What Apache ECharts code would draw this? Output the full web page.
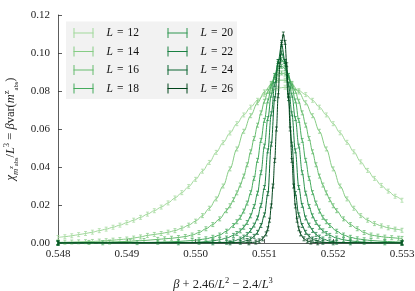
<!DOCTYPE html>
<html><head><meta charset="utf-8">
<script src="https://cdn.jsdelivr.net/npm/echarts@6/dist/echarts.min.js"></script>
<style>html,body{margin:0;padding:0;background:#fff}#c{width:415px;height:291px}</style>
</head><body><div id="c"></div>
<script>
const seriesNames = ['L = 12','L = 14','L = 16','L = 18','L = 20','L = 22','L = 24','L = 26'];
const xTicks = [0.548, 0.549, 0.550, 0.551, 0.552, 0.553];
const yTicks = [0, 0.02, 0.04, 0.06, 0.08, 0.10, 0.12];

const L12 = [[0.5480,0.0029],[0.5481,0.0033],[0.5482,0.0038],[0.5483,0.0044],[0.5484,0.0050],[0.5485,0.0057],[0.5486,0.0065],[0.5487,0.0073],[0.5488,0.0083],[0.5489,0.0094],[0.5490,0.0107],[0.5491,0.0120],[0.5492,0.0135],[0.5493,0.0152],[0.5494,0.0170],[0.5495,0.0189],[0.5496,0.0211],[0.5497,0.0237],[0.5498,0.0265],[0.5499,0.0297],[0.5500,0.0335],[0.5501,0.0378],[0.5502,0.0424],[0.5503,0.0477],[0.5504,0.0528],[0.5505,0.0579],[0.5506,0.0628],[0.5507,0.0674],[0.5508,0.0715],[0.5509,0.0751],[0.5510,0.0781],[0.5511,0.0802],[0.5512,0.0815],[0.5513,0.0820],[0.5514,0.0815],[0.5515,0.0802],[0.5516,0.0781],[0.5517,0.0751],[0.5518,0.0715],[0.5519,0.0674],[0.5520,0.0628],[0.5521,0.0580],[0.5522,0.0530],[0.5523,0.0480],[0.5524,0.0427],[0.5525,0.0382],[0.5526,0.0340],[0.5527,0.0303],[0.5528,0.0273],[0.5529,0.0246],[0.5530,0.0225]];

const L14 = [[0.5480,0.0003],[0.5481,0.0004],[0.5482,0.0005],[0.5483,0.0006],[0.5484,0.0007],[0.5485,0.0008],[0.5486,0.0010],[0.5487,0.0012],[0.5488,0.0015],[0.5489,0.0018],[0.5490,0.0021],[0.5491,0.0026],[0.5492,0.0032],[0.5493,0.0040],[0.5494,0.0045],[0.5495,0.0050],[0.5496,0.0057],[0.5497,0.0065],[0.5498,0.0078],[0.5499,0.0094],[0.5500,0.0115],[0.5501,0.0144],[0.5502,0.0183],[0.5503,0.0232],[0.5504,0.0300],[0.5505,0.0390],[0.5506,0.0495],[0.5507,0.0588],[0.5508,0.0670],[0.5509,0.0738],[0.5510,0.0795],[0.5511,0.0836],[0.5512,0.0857],[0.5513,0.0857],[0.5514,0.0836],[0.5515,0.0795],[0.5516,0.0738],[0.5517,0.0670],[0.5518,0.0588],[0.5519,0.0495],[0.5520,0.0390],[0.5521,0.0300],[0.5522,0.0232],[0.5523,0.0183],[0.5524,0.0144],[0.5525,0.0120],[0.5526,0.0102],[0.5527,0.0090],[0.5528,0.0080],[0.5529,0.0073],[0.5530,0.0067]];

const L16 = [[0.5480,0.0001],[0.54845,0.0003],[0.54875,0.0005],[0.54905,0.0009],[0.54925,0.0013],[0.54945,0.0019],[0.54955,0.0022],[0.54965,0.0025],[0.54975,0.0029],[0.54985,0.0034],[0.54995,0.0042],[0.55005,0.0055],[0.55015,0.0075],[0.55025,0.0097],[0.55035,0.0127],[0.55045,0.0170],[0.5505,0.0196],[0.55055,0.0228],[0.5506,0.0264],[0.55065,0.0305],[0.5507,0.0352],[0.55075,0.0412],[0.5508,0.0480],[0.55085,0.0550],[0.5509,0.0620],[0.55095,0.0685],[0.5510,0.0746],[0.55105,0.0798],[0.5511,0.0840],[0.55115,0.0871],[0.5512,0.0889],[0.55125,0.0895],[0.5513,0.0889],[0.55135,0.0871],[0.5514,0.0840],[0.55145,0.0798],[0.5515,0.0746],[0.55155,0.0685],[0.5516,0.0620],[0.55165,0.0550],[0.5517,0.0480],[0.55175,0.0412],[0.5518,0.0352],[0.55185,0.0305],[0.5519,0.0264],[0.55195,0.0228],[0.5520,0.0196],[0.55205,0.0170],[0.55215,0.0127],[0.55225,0.0097],[0.55235,0.0075],[0.55245,0.0055],[0.55255,0.0042],[0.55265,0.0036],[0.55275,0.0031],[0.55285,0.0028],[0.55295,0.0025],[0.5530,0.0024]];

const L18 = [[0.5480,0.0000],[0.54865,0.0001],[0.54915,0.0002],[0.54945,0.0004],[0.54975,0.0008],[0.54995,0.0013],[0.55005,0.0017],[0.55015,0.0022],[0.55025,0.0030],[0.55035,0.0042],[0.55045,0.0062],[0.55055,0.0092],[0.5506,0.0112],[0.55065,0.0135],[0.5507,0.0168],[0.55075,0.0210],[0.5508,0.0265],[0.55085,0.0340],[0.5509,0.0435],[0.55095,0.0540],[0.5510,0.0645],[0.55105,0.0748],[0.5511,0.0826],[0.55115,0.0882],[0.5512,0.0918],[0.55125,0.0930],[0.5513,0.0918],[0.55135,0.0882],[0.5514,0.0826],[0.55145,0.0748],[0.5515,0.0645],[0.55155,0.0540],[0.5516,0.0435],[0.55165,0.0340],[0.5517,0.0265],[0.55175,0.0210],[0.5518,0.0168],[0.55185,0.0135],[0.5519,0.0112],[0.55195,0.0092],[0.55205,0.0062],[0.55215,0.0042],[0.55225,0.0030],[0.55235,0.0022],[0.55245,0.0017],[0.55255,0.0013],[0.55275,0.0008],[0.5530,0.0004]];

const L20 = [[0.5480,0.0000],[0.54975,0.0001],[0.55005,0.0004],[0.55025,0.0011],[0.55035,0.0017],[0.55045,0.0026],[0.55055,0.0040],[0.5506,0.0050],[0.55065,0.0064],[0.5507,0.0083],[0.55075,0.0108],[0.5508,0.0143],[0.55085,0.0192],[0.5509,0.0262],[0.55095,0.0370],[0.5510,0.0510],[0.55105,0.0655],[0.5511,0.0778],[0.55115,0.0880],[0.5512,0.0945],[0.55125,0.0965],[0.5513,0.0945],[0.55135,0.0880],[0.5514,0.0778],[0.55145,0.0655],[0.5515,0.0510],[0.55155,0.0370],[0.5516,0.0262],[0.55165,0.0192],[0.5517,0.0143],[0.55175,0.0108],[0.5518,0.0083],[0.55185,0.0064],[0.5519,0.0050],[0.55195,0.0040],[0.55205,0.0026],[0.55215,0.0017],[0.55225,0.0011],[0.55245,0.0004],[0.55275,0.0001],[0.5530,0.0000]];

const L22 = [[0.5480,0.0000],[0.55025,0.0001],[0.55045,0.0004],[0.55055,0.0010],[0.55065,0.0021],[0.5507,0.0031],[0.55075,0.0045],[0.5508,0.0066],[0.55085,0.0094],[0.5509,0.0132],[0.55095,0.0198],[0.5510,0.0292],[0.55105,0.0485],[0.5511,0.0680],[0.55115,0.0835],[0.5512,0.0955],[0.55125,0.1000],[0.5513,0.0955],[0.55135,0.0835],[0.5514,0.0680],[0.55145,0.0485],[0.5515,0.0292],[0.55155,0.0198],[0.5516,0.0132],[0.55165,0.0094],[0.5517,0.0066],[0.55175,0.0045],[0.5518,0.0031],[0.55185,0.0021],[0.55195,0.0010],[0.55205,0.0004],[0.55225,0.0001],[0.5530,0.0000]];

const L24 = [[0.5480,0.0000],[0.5505,0.0001],[0.55065,0.0004],[0.55075,0.0013],[0.5508,0.0021],[0.55085,0.0035],[0.5509,0.0056],[0.55095,0.0092],[0.5510,0.0148],[0.55105,0.0260],[0.5511,0.0520],[0.55115,0.0760],[0.5512,0.0955],[0.55125,0.1045],[0.5513,0.0955],[0.55135,0.0760],[0.5514,0.0520],[0.55145,0.0260],[0.5515,0.0148],[0.55155,0.0092],[0.5516,0.0056],[0.55165,0.0035],[0.5517,0.0021],[0.55175,0.0013],[0.55185,0.0004],[0.5520,0.0001],[0.5530,0.0000]];

const L26 = [[0.5480,0.0000],[0.550775,0.0001],[0.550875,0.0005],[0.550925,0.0011],[0.550975,0.0022],[0.551025,0.0048],[0.55105,0.0075],[0.551075,0.0120],[0.5511,0.0195],[0.551125,0.0300],[0.55115,0.0435],[0.551175,0.0600],[0.5512,0.0775],[0.551225,0.0938],[0.55125,0.1056],[0.551275,0.1100],[0.5513,0.1056],[0.551325,0.0938],[0.55135,0.0775],[0.551375,0.0600],[0.5514,0.0435],[0.551425,0.0300],[0.55145,0.0195],[0.551475,0.0120],[0.5515,0.0075],[0.551525,0.0048],[0.551575,0.0022],[0.551625,0.0011],[0.551675,0.0005],[0.551775,0.0001],[0.5530,0.0000]];

const allData = [L12, L14, L16, L18, L20, L22, L24, L26];
const palette = ['#a1d99b','#86cc85','#66bc6e','#45ab5d','#2e9650','#1a8042','#0b6530','#00441b'];

const FONT = 'Liberation Serif';
const ebar = 'path://M0,0 L4,0 M2,0 L2,8 M0,8 L4,8';
const legIcon = 'path://M0,5 L20,5 M0.5,0 L0.5,10 M19.5,0 L19.5,10';

const chart = echarts.init(document.getElementById('c'), null, {renderer:'canvas'});

const legendCommon = {
  orient: 'vertical', top: 27, itemWidth: 20, itemHeight: 10, itemGap: 6.5,
  icon: legIcon, selectedMode: false, padding: 0,
  itemStyle: {color: 'rgba(0,0,0,0)', borderWidth: 1},
  formatter: n => '{i|L}{e|=}{t|' + n.split('= ')[1] + '}',
  textStyle: {
    padding: [0,0,0,8],
    rich: {
      i: {fontFamily: FONT, fontStyle: 'italic', fontSize: 11.5, color: '#111', lineHeight: 12},
      e: {fontFamily: FONT, fontSize: 11.5, color: '#111', padding: [0,4,0,4], lineHeight: 12},
      t: {fontFamily: FONT, fontSize: 11.5, color: '#111', lineHeight: 12}
    }
  }
};

const option = {
  animation: false,
  backgroundColor: '#fff',
  grid: {left: 58, right: 13, top: 15, bottom: 48, containLabel: false, outerBoundsMode: 'none'},
  graphic: [{type: 'rect', left: 66, top: 21.5, z: 0, shape: {width: 171, height: 77.5}, style: {fill: '#f2f2f2'}}],
  legend: [
    Object.assign({}, legendCommon, {left: 73, data: seriesNames.slice(0,4)}),
    Object.assign({}, legendCommon, {left: 167, data: seriesNames.slice(4)})
  ],
  xAxis: {
    type: 'value', min: xTicks[0], max: xTicks[xTicks.length-1], interval: 0.001,
    splitLine: {show: false},
    axisLine: {lineStyle: {color: '#333', width: 0.8}},
    axisTick: {inside: true, length: 4, lineStyle: {color: '#333', width: 0.8}},
    axisLabel: {fontFamily: FONT, fontSize: 11, color: '#222', margin: 6, formatter: v => v.toFixed(3)},
    name: '{i|β}{t| + 2.46/}{i|L}{p|2}{t| − 2.4/}{i|L}{p|3}',
    nameLocation: 'middle', nameGap: 33,
    nameTextStyle: {
      padding: [0, 14, 0, 0],
      rich: {
        t: {fontFamily: FONT, fontSize: 12.5, color: '#222', lineHeight: 17},
        i: {fontFamily: FONT, fontSize: 12.5, fontStyle: 'italic', color: '#222', lineHeight: 17},
        p: {fontFamily: FONT, fontSize: 8.5, color: '#222', verticalAlign: 'top', lineHeight: 10}
      }
    }
  },
  yAxis: {
    type: 'value', min: yTicks[0], max: yTicks[yTicks.length-1], interval: 0.02,
    splitLine: {show: false},
    axisLine: {show: true, lineStyle: {color: '#333', width: 0.8}},
    axisTick: {show: true, inside: true, length: 4, lineStyle: {color: '#333', width: 0.8}},
    axisLabel: {fontFamily: FONT, fontSize: 11, color: '#222', margin: 8, formatter: v => v.toFixed(2)},
    name: '{i|χ}{s|m}{z|z}{a|abs}{t|/}{i|L}{p|3}{t| = }{i|β}{t|var(}{i|m}{p|z}{a|abs}{t|)}',
    nameLocation: 'middle', nameRotate: 90, nameGap: 34,
    nameTextStyle: {
      rich: {
        t: {fontFamily: FONT, fontSize: 12.5, color: '#222', lineHeight: 18},
        i: {fontFamily: FONT, fontSize: 12.5, fontStyle: 'italic', color: '#222', lineHeight: 18},
        s: {fontFamily: FONT, fontSize: 8.5, fontStyle: 'italic', color: '#222', verticalAlign: 'bottom', lineHeight: 10},
        z: {fontFamily: FONT, fontSize: 6.5, fontStyle: 'italic', color: '#222', verticalAlign: 'middle'},
        a: {fontFamily: FONT, fontSize: 6.5, color: '#222', verticalAlign: 'bottom', lineHeight: 7},
        p: {fontFamily: FONT, fontSize: 8.5, color: '#222', verticalAlign: 'top', lineHeight: 10}
      }
    }
  },
  series: allData.map((d, i) => ({
    type: 'line', name: seriesNames[i], data: d,
    smooth: 0.35, smoothMonotone: 'x',
    symbol: ebar, symbolSize: [3, 4], showSymbol: true,
    lineStyle: {color: palette[i], width: 1},
    itemStyle: {color: 'rgba(0,0,0,0)', borderColor: palette[i], borderWidth: 0.7},
    emphasis: {disabled: true}, silent: true, z: 2 + i * 0.01
  }))
};
chart.setOption(option);
</script>
</body></html>
